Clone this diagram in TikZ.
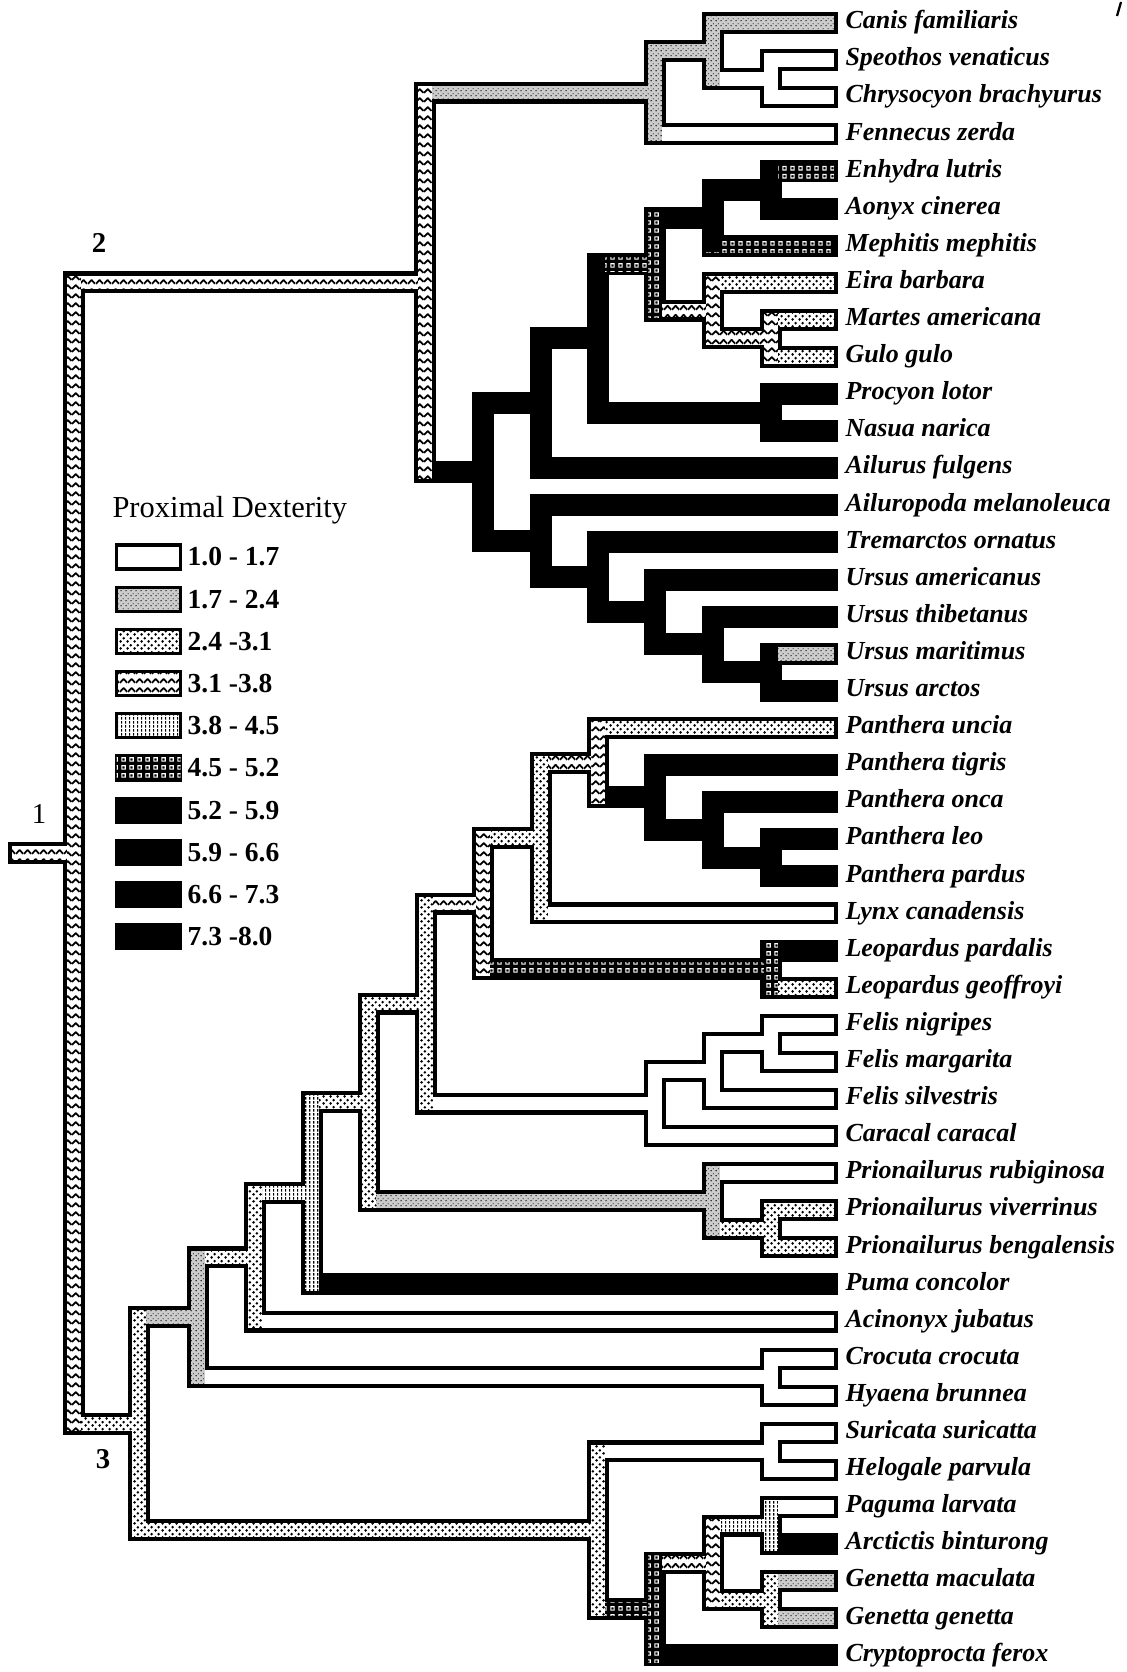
\documentclass[tikz,border=0pt]{standalone}
\usepackage{fontspec}
\setmainfont{Liberation Serif}
\usetikzlibrary{calc, positioning, patterns}

\pgfdeclarelayer{outline}
\pgfdeclarelayer{vbar}
\pgfsetlayers{outline,main,vbar}

% fill patterns of the dexterity classes
\pgfdeclarepatternformonly{zigzag}{\pgfpointorigin}{\pgfpoint{3.2pt}{3.4pt}}{\pgfpoint{3.2pt}{3.4pt}}{%
  \pgfsetlinewidth{0.75pt}\pgfsetroundjoin
  \pgfpathmoveto{\pgfpoint{0pt}{0.9pt}}%
  \pgfpathlineto{\pgfpoint{1.6pt}{2.5pt}}%
  \pgfpathlineto{\pgfpoint{3.2pt}{0.9pt}}%
  \pgfusepathqstroke}
\pgfdeclarepatternformonly{dotnet}{\pgfpointorigin}{\pgfpoint{2.8pt}{2.8pt}}{\pgfpoint{2.8pt}{2.8pt}}{%
  \pgfpathcircle{\pgfpoint{0.7pt}{0.7pt}}{0.62pt}%
  \pgfpathcircle{\pgfpoint{2.1pt}{2.1pt}}{0.62pt}%
  \pgfusepathqfill}
\pgfdeclarepatternformonly{speckle}{\pgfpointorigin}{\pgfpoint{2pt}{2pt}}{\pgfpoint{2pt}{2pt}}{%
  \pgfpathcircle{\pgfpoint{0.5pt}{0.6pt}}{0.32pt}%
  \pgfpathcircle{\pgfpoint{1.5pt}{1.5pt}}{0.25pt}%
  \pgfusepathqfill}
\pgfdeclarepatternformonly{vdash}{\pgfpointorigin}{\pgfpoint{1.6pt}{1.6pt}}{\pgfpoint{1.6pt}{1.6pt}}{%
  \pgfsetlinewidth{0.55pt}%
  \pgfpathmoveto{\pgfpoint{0.8pt}{0.2pt}}%
  \pgfpathlineto{\pgfpoint{0.8pt}{1.4pt}}%
  \pgfusepathqstroke}
\pgfdeclarepatternformonly{wsquare}{\pgfpointorigin}{\pgfpoint{3pt}{3pt}}{\pgfpoint{3pt}{3pt}}{%
  \pgfsetlinewidth{0.45pt}%
  \pgfpathrectangle{\pgfpoint{0.8pt}{0.8pt}}{\pgfpoint{1.4pt}{1.4pt}}%
  \pgfusepathqstroke}

\tikzset{
  outline/.style={line width=8.8pt, line cap=rect, black},
  dex1/.style={fill=white},
  dex2/.style={fill=gray!40, postaction={pattern=speckle}},
  dex3/.style={fill=white, postaction={pattern=dotnet}},
  dex4/.style={fill=white, postaction={pattern=zigzag}},
  dex5/.style={fill=white, postaction={pattern=vdash}},
  dex6/.style={fill=black, postaction={pattern=wsquare, pattern color=white}},
  dex7/.style={fill=black},
  taxon/.style={font=\fontsize{10.4}{12}\selectfont\bfseries\itshape, inner sep=0pt},
  keybox/.style={draw, line width=1.3pt, minimum width=25.6pt, minimum height=9.6pt, inner sep=0pt},
  keytext/.style={font=\fontsize{11}{12}\selectfont\bfseries, inner sep=0pt},
  num/.style={font=\fontsize{11.5}{12}\selectfont\bfseries, inner sep=0pt}
}

\newcommand{\hw}{2.75pt}
% branch leading to #2 from the vertical of #1
\newcommand{\hbranch}[3]{%
  \begin{pgfonlayer}{outline}
    \draw[outline] (#1 |- #2) -- (#2);
  \end{pgfonlayer}
  \fill[#3] ($(#1 |- #2)+(-\hw,\hw)$) rectangle ($(#2)+(\hw,-\hw)$);
}
% vertical of node #1 from child #2 to child #3
\newcommand{\vbranch}[4]{%
  \begin{pgfonlayer}{outline}
    \draw[outline] (#1 |- #2) -- (#1 |- #3);
  \end{pgfonlayer}
  \begin{pgfonlayer}{vbar}
    \fill[#4] ($(#1 |- #2)+(-\hw,\hw)$) rectangle ($(#1 |- #3)+(\hw,-\hw)$);
  \end{pgfonlayer}
}

\begin{document}
\begin{tikzpicture}[x=0.4pt, y=-0.4pt]
\useasboundingbox (0,0) rectangle (1126,1672);

\begin{scope}[y=-14.84pt, yshift=-9.2pt]
% tips
\foreach \n/\lab [count=\k from 0] in {
  canis/Canis familiaris, speothos/Speothos venaticus, chrysocyon/Chrysocyon brachyurus,
  fennecus/Fennecus zerda, enhydra/Enhydra lutris, aonyx/Aonyx cinerea,
  mephitis/Mephitis mephitis, eira/Eira barbara, martes/Martes americana,
  gulo/Gulo gulo, procyon/Procyon lotor, nasua/Nasua narica,
  ailurus/Ailurus fulgens, ailuropoda/Ailuropoda melanoleuca, tremarctos/Tremarctos ornatus,
  uamericanus/Ursus americanus, uthibetanus/Ursus thibetanus, umaritimus/Ursus maritimus,
  uarctos/Ursus arctos, puncia/Panthera uncia, ptigris/Panthera tigris,
  ponca/Panthera onca, pleo/Panthera leo, ppardus/Panthera pardus,
  lynx/Lynx canadensis, lpardalis/Leopardus pardalis, lgeoffroyi/Leopardus geoffroyi,
  fnigripes/Felis nigripes, fmargarita/Felis margarita, fsilvestris/Felis silvestris,
  caracal/Caracal caracal, prubiginosa/Prionailurus rubiginosa, pviverrinus/Prionailurus viverrinus,
  pbengalensis/Prionailurus bengalensis, puma/Puma concolor, acinonyx/Acinonyx jubatus,
  crocuta/Crocuta crocuta, hyaena/Hyaena brunnea, suricata/Suricata suricatta,
  helogale/Helogale parvula, paguma/Paguma larvata, arctictis/Arctictis binturong,
  gmaculata/Genetta maculata, ggenetta/Genetta genetta, cryptoprocta/Cryptoprocta ferox} {
  \coordinate (\n) at (827,\k);
  \node[taxon, right=7.2pt of \n, anchor=mid west] (\n-lab) {\lab};
}

% internal nodes
\coordinate (rt) at (19,22.374);
\coordinate (n1) at (74,22.374);
\coordinate (n2) at (425,6.992);
\coordinate (canidae) at (655,1.875);
\coordinate (cn) at (713,0.75);
\coordinate (sc) at (771,1.5);
\coordinate (arct) at (483,12.109);
\coordinate (b) at (541,10.25);
\coordinate (c) at (598,8.5);
\coordinate (d) at (655,6.5);
\coordinate (e) at (713,5.25);
\coordinate (ea) at (771,4.5);
\coordinate (f) at (713,7.75);
\coordinate (mg) at (771,8.5);
\coordinate (pn) at (771,10.5);
\coordinate (u1) at (541,13.969);
\coordinate (u2) at (598,14.938);
\coordinate (u3) at (655,15.875);
\coordinate (u4) at (713,16.75);
\coordinate (u5) at (771,17.5);
\coordinate (n3) at (139,37.756);
\coordinate (fh) at (198,34.886);
\coordinate (fa) at (255,33.272);
\coordinate (fpu) at (312,31.545);
\coordinate (fp) at (369,29.090);
\coordinate (fe) at (426,26.430);
\coordinate (pll) at (483,23.734);
\coordinate (pl) at (541,21.969);
\coordinate (p1) at (598,19.938);
\coordinate (p2) at (655,20.875);
\coordinate (p3) at (713,21.75);
\coordinate (p4) at (771,22.5);
\coordinate (le) at (771,25.5);
\coordinate (fc) at (655,29.125);
\coordinate (nms) at (713,28.25);
\coordinate (nm) at (771,27.5);
\coordinate (pr) at (713,31.75);
\coordinate (vb) at (771,32.5);
\coordinate (hy) at (771,36.5);
\coordinate (hv) at (598,40.625);
\coordinate (he) at (771,38.5);
\coordinate (vc) at (655,42.75);
\coordinate (vv) at (713,41.5);
\coordinate (pa) at (771,40.5);
\coordinate (gg) at (771,42.5);
\end{scope}

% root
\hbranch{rt}{n1}{dex4}  \vbranch{n1}{n2}{n3}{dex4}

% node 2
\hbranch{n1}{n2}{dex4}  \vbranch{n2}{canidae}{arct}{dex4}
\hbranch{n2}{canidae}{dex2}  \vbranch{canidae}{cn}{fennecus}{dex2}
\hbranch{canidae}{cn}{dex2}  \vbranch{cn}{canis}{sc}{dex2}
\hbranch{cn}{canis}{dex2}
\hbranch{cn}{sc}{dex1}  \vbranch{sc}{speothos}{chrysocyon}{dex1}
\hbranch{sc}{speothos}{dex1}
\hbranch{sc}{chrysocyon}{dex1}
\hbranch{canidae}{fennecus}{dex1}

\hbranch{n2}{arct}{dex7}  \vbranch{arct}{b}{u1}{dex7}
\hbranch{arct}{b}{dex7}  \vbranch{b}{c}{ailurus}{dex7}
\hbranch{b}{c}{dex7}  \vbranch{c}{d}{pn}{dex7}
\hbranch{c}{d}{dex6}  \vbranch{d}{e}{f}{dex6}
\hbranch{d}{e}{dex7}  \vbranch{e}{ea}{mephitis}{dex7}
\hbranch{e}{ea}{dex7}  \vbranch{ea}{enhydra}{aonyx}{dex7}
\hbranch{ea}{enhydra}{dex6}
\hbranch{ea}{aonyx}{dex7}
\hbranch{e}{mephitis}{dex6}
\hbranch{d}{f}{dex4}  \vbranch{f}{eira}{mg}{dex4}
\hbranch{f}{eira}{dex3}
\hbranch{f}{mg}{dex4}  \vbranch{mg}{martes}{gulo}{dex4}
\hbranch{mg}{martes}{dex3}
\hbranch{mg}{gulo}{dex3}
\hbranch{c}{pn}{dex7}  \vbranch{pn}{procyon}{nasua}{dex7}
\hbranch{pn}{procyon}{dex7}
\hbranch{pn}{nasua}{dex7}
\hbranch{b}{ailurus}{dex7}
\hbranch{arct}{u1}{dex7}  \vbranch{u1}{ailuropoda}{u2}{dex7}
\hbranch{u1}{ailuropoda}{dex7}
\hbranch{u1}{u2}{dex7}  \vbranch{u2}{tremarctos}{u3}{dex7}
\hbranch{u2}{tremarctos}{dex7}
\hbranch{u2}{u3}{dex7}  \vbranch{u3}{uamericanus}{u4}{dex7}
\hbranch{u3}{uamericanus}{dex7}
\hbranch{u3}{u4}{dex7}  \vbranch{u4}{uthibetanus}{u5}{dex7}
\hbranch{u4}{uthibetanus}{dex7}
\hbranch{u4}{u5}{dex7}  \vbranch{u5}{umaritimus}{uarctos}{dex7}
\hbranch{u5}{umaritimus}{dex2}
\hbranch{u5}{uarctos}{dex7}

% node 3
\hbranch{n1}{n3}{dex3}  \vbranch{n3}{fh}{hv}{dex3}
\hbranch{n3}{fh}{dex2}  \vbranch{fh}{fa}{hy}{dex2}
\hbranch{fh}{fa}{dex3}  \vbranch{fa}{fpu}{acinonyx}{dex3}
\hbranch{fa}{fpu}{dex5}  \vbranch{fpu}{fp}{puma}{dex5}
\hbranch{fpu}{fp}{dex3}  \vbranch{fp}{fe}{pr}{dex3}
\hbranch{fp}{fe}{dex3}  \vbranch{fe}{pll}{fc}{dex3}
\hbranch{fe}{pll}{dex4}  \vbranch{pll}{pl}{le}{dex4}
\hbranch{pll}{pl}{dex3}  \vbranch{pl}{p1}{lynx}{dex3}
\hbranch{pl}{p1}{dex4}  \vbranch{p1}{puncia}{p2}{dex4}
\hbranch{p1}{puncia}{dex3}
\hbranch{p1}{p2}{dex7}  \vbranch{p2}{ptigris}{p3}{dex7}
\hbranch{p2}{ptigris}{dex7}
\hbranch{p2}{p3}{dex7}  \vbranch{p3}{ponca}{p4}{dex7}
\hbranch{p3}{ponca}{dex7}
\hbranch{p3}{p4}{dex7}  \vbranch{p4}{pleo}{ppardus}{dex7}
\hbranch{p4}{pleo}{dex7}
\hbranch{p4}{ppardus}{dex7}
\hbranch{pl}{lynx}{dex1}
\hbranch{pll}{le}{dex6}  \vbranch{le}{lpardalis}{lgeoffroyi}{dex6}
\hbranch{le}{lpardalis}{dex7}
\hbranch{le}{lgeoffroyi}{dex3}
\hbranch{fe}{fc}{dex1}  \vbranch{fc}{nms}{caracal}{dex1}
\hbranch{fc}{nms}{dex1}  \vbranch{nms}{nm}{fsilvestris}{dex1}
\hbranch{nms}{nm}{dex1}  \vbranch{nm}{fnigripes}{fmargarita}{dex1}
\hbranch{nm}{fnigripes}{dex1}
\hbranch{nm}{fmargarita}{dex1}
\hbranch{nms}{fsilvestris}{dex1}
\hbranch{fc}{caracal}{dex1}
\hbranch{fp}{pr}{dex2}  \vbranch{pr}{prubiginosa}{vb}{dex2}
\hbranch{pr}{prubiginosa}{dex1}
\hbranch{pr}{vb}{dex3}  \vbranch{vb}{pviverrinus}{pbengalensis}{dex3}
\hbranch{vb}{pviverrinus}{dex3}
\hbranch{vb}{pbengalensis}{dex3}
\hbranch{fpu}{puma}{dex7}
\hbranch{fa}{acinonyx}{dex1}
\hbranch{fh}{hy}{dex1}  \vbranch{hy}{crocuta}{hyaena}{dex1}
\hbranch{hy}{crocuta}{dex1}
\hbranch{hy}{hyaena}{dex1}
\hbranch{n3}{hv}{dex3}  \vbranch{hv}{he}{vc}{dex3}
\hbranch{hv}{he}{dex1}  \vbranch{he}{suricata}{helogale}{dex1}
\hbranch{he}{suricata}{dex1}
\hbranch{he}{helogale}{dex1}
\hbranch{hv}{vc}{dex6}  \vbranch{vc}{vv}{cryptoprocta}{dex6}
\hbranch{vc}{vv}{dex4}  \vbranch{vv}{pa}{gg}{dex4}
\hbranch{vv}{pa}{dex5}  \vbranch{pa}{paguma}{arctictis}{dex5}
\hbranch{pa}{paguma}{dex1}
\hbranch{pa}{arctictis}{dex7}
\hbranch{vv}{gg}{dex3}  \vbranch{gg}{gmaculata}{ggenetta}{dex3}
\hbranch{gg}{gmaculata}{dex2}
\hbranch{gg}{ggenetta}{dex2}
\hbranch{vc}{cryptoprocta}{dex7}

% node numbers
\node[num, font=\fontsize{11.5}{12}\selectfont] (lab1) at (39,814) {1};
\node[num] (lab2) at (99,243) {2};
\node[num] (lab3) at (103,1459) {3};

% legend
\node[font=\fontsize{12.2}{14}\selectfont, inner sep=0pt, anchor=base west] (title) at (112,517) {Proximal Dexterity};
\foreach \s/\r [count=\i from 0] in {dex1/1.0 - 1.7, dex2/1.7 - 2.4, dex3/2.4 -3.1,
  dex4/3.1 -3.8, dex5/3.8 - 4.5, dex6/4.5 - 5.2, dex7/5.2 - 5.9, dex7/5.9 - 6.6,
  dex7/6.6 - 7.3, dex7/7.3 -8.0} {
  \node[keybox, \s] (key\i) at (148.5,{557+42.2*\i}) {};
  \node[keytext, right=2pt of key\i] (keytext\i) {\r};
}

% mark in the top corner
\draw[line width=0.9pt] (1121,2) -- (1117,16);
\end{tikzpicture}
\end{document}
